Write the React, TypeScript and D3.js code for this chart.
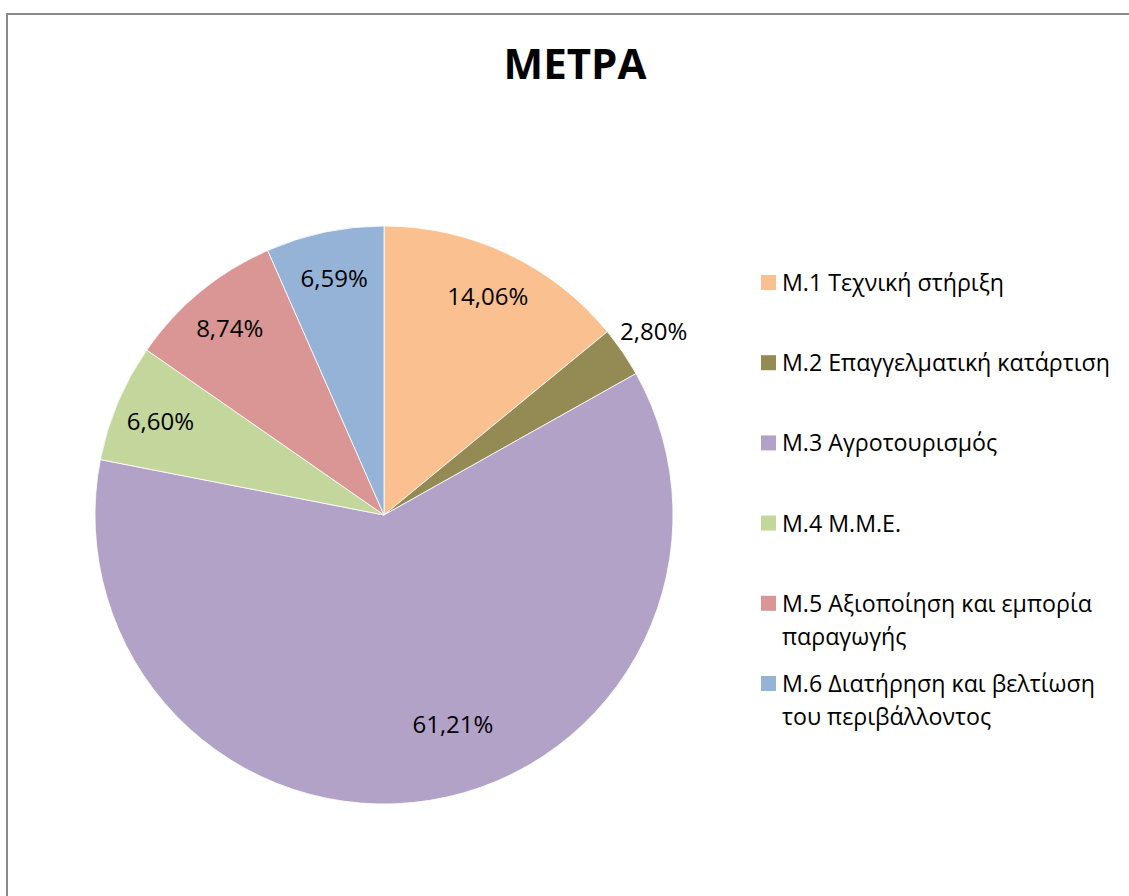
import React from "react";
import * as d3 from "d3";

const title = "ΜΕΤΡΑ";
const categories = [
  ["Μ.1 Τεχνική στήριξη"],
  ["Μ.2 Επαγγελματική κατάρτιση"],
  ["Μ.3 Αγροτουρισμός"],
  ["Μ.4 Μ.Μ.Ε."],
  ["Μ.5 Αξιοποίηση και εμπορία", "παραγωγής"],
  ["Μ.6 Διατήρηση και βελτίωση", "του περιβάλλοντος"],
];
const values = [14.06, 2.8, 61.21, 6.6, 8.74, 6.59];
const colors = ["#FAC090", "#948A54", "#B3A2C7", "#C3D69B", "#D99694", "#95B3D7"];

const W = 1129;
const H = 896;
const cx = 384;
const cy = 515;
const R = 289;
const FONT = "'Open Sans', 'Liberation Sans', sans-serif";

export default function App() {
  const pie = d3.pie<number>().sort(null).value((d) => d);
  const arcs = pie(values);
  const arc = d3.arc<d3.PieArcDatum<number>>().innerRadius(0).outerRadius(R);
  const fmt = (v: number) => v.toFixed(2).replace(".", ",") + "%";

  const legendX = 761;
  const legendY0 = 291;
  const legendStep = 80.2;

  return (
    <svg
      width={W}
      height={H}
      style={{ position: "absolute", left: 0, top: 0, background: "#fff" }}
    >
      <rect x={0} y={0} width={W} height={H} fill="#fff" />
      <rect x={7} y={14} width={W + 50} height={H + 50} fill="#fff" stroke="#8a8a8a" strokeWidth={2} />
      <text
        x={575}
        y={79}
        textAnchor="middle"
        fontFamily={FONT}
        fontWeight="bold"
        fontSize={42}
        fill="#000"
      >
        {title}
      </text>
      <g transform={`translate(${cx},${cy})`}>
        {arcs.map((a, i) => (
          <path key={i} d={arc(a) || ""} fill={colors[i]} stroke="#fff" strokeWidth={0.8} />
        ))}
        {arcs.map((a, i) => {
          const mid = (a.startAngle + a.endAngle) / 2;
          const small = values[i] < 4;
          const big = values[i] > 50;
          const r = small ? R * 1.13 : big ? R * 0.76 : R * 0.84;
          const ang = big ? mid - 0.16 : mid;
          const x = Math.sin(ang) * r;
          const y = -Math.cos(ang) * r;
          return (
            <text
              key={"l" + i}
              x={x}
              y={y}
              textAnchor="middle"
              dominantBaseline="central"
              fontFamily={FONT}
              fontSize={24}
              fill="#000"
            >
              {fmt(values[i])}
            </text>
          );
        })}
      </g>
      <g>
        {categories.map((lines, i) => {
          const by = legendY0 + i * legendStep;
          return (
            <g key={"lg" + i}>
              <rect x={legendX} y={by - 16} width={15} height={15} fill={colors[i]} />
              <text x={782} y={by} fontFamily={FONT} fontSize={23.2} fill="#000">
                {lines.map((t, j) => (
                  <tspan key={j} x={782} dy={j === 0 ? 0 : 33}>
                    {t}
                  </tspan>
                ))}
              </text>
            </g>
          );
        })}
      </g>
    </svg>
  );
}
